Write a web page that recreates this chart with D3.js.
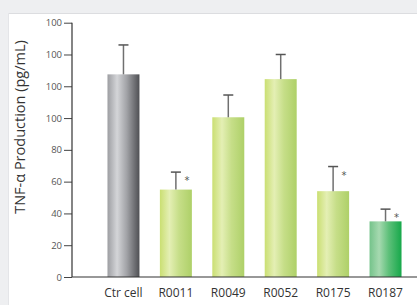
<!DOCTYPE html>
<html lang="en">
<head>
<meta charset="utf-8">
<script src="https://cdn.jsdelivr.net/npm/d3@7"></script>
<style>
  html, body { margin: 0; padding: 0; background: #eeeff1; }
  svg { display: block; }
</style>
</head>
<body>
<script>
// data (axis units: 20 per tick step)
var categories = ["Ctr cell", "R0011", "R0049", "R0052", "R0175", "R0187"];
var values     = [127.5, 55, 100.5, 124.5, 54, 35];
var errors     = [18.5, 11, 14, 15.5, 15.5, 7.7];
var starred    = [false, true, false, false, true, true];
var barStyle   = ["gray", "lime", "lime", "lime", "lime", "green"];
var tickValues = [0, 20, 40, 60, 80, 100, 120, 140, 160];
var tickLabels = ["0", "20", "40", "60", "80", "100", "100", "100", "100"];

var w = 417, h = 305;
var svg = d3.select("body").append("svg").attr("width", w).attr("height", h);

// white panel
svg.append("rect").attr("x", 8).attr("y", 13).attr("width", w - 8).attr("height", h - 13).attr("fill", "#fff");
svg.append("line").attr("x1", 8).attr("x2", w).attr("y1", 13.5).attr("y2", 13.5).attr("stroke", "#dcdde0");
svg.append("line").attr("x1", 8.5).attr("x2", 8.5).attr("y1", 13).attr("y2", h).attr("stroke", "#e4e5e8");

var defs = svg.append("defs");
var grads = {
  gray:  ["#9d9ea2", "#d4d5d8", "#a2a3a7", "#4f5054"],
  lime:  ["#cadf72", "#e4efb4", "#c6de88", "#aed068"],
  green: ["#74c38a", "#a6d9b0", "#5ec07a", "#16a84a"]
};
Object.keys(grads).forEach(function(k) {
  var g = defs.append("linearGradient").attr("id", "g-" + k)
    .attr("x1", "0%").attr("x2", "100%").attr("y1", "0%").attr("y2", "0%");
  var offs = [0, 0.3, 0.6, 1];
  grads[k].forEach(function(c, i) {
    g.append("stop").attr("offset", offs[i]).attr("stop-color", c);
  });
});

var x0 = 72, yBase = 277;
var xscale = d3.scaleBand()
  .domain(categories)
  .range([97, 412])
  .paddingInner(0.39)
  .paddingOuter(0.2);

var yscale = d3.scaleLinear()
  .domain([0, 160])
  .range([yBase, 22.7]);

// bars
svg.selectAll(".bar")
  .data(categories)
  .enter()
  .append("rect")
  .attr("class", "bar")
  .attr("x", function(d) { return xscale(d) })
  .attr("y", function(d, i) { return yscale(values[i]) })
  .attr("width", xscale.bandwidth())
  .attr("height", function(d, i) { return yscale(0) - yscale(values[i]) })
  .attr("fill", function(d, i) { return "url(#g-" + barStyle[i] + ")" });

// error bars
var eb = svg.selectAll(".err")
  .data(categories)
  .enter()
  .append("g")
  .attr("class", "err");
eb.append("line")
  .attr("x1", function(d) { return xscale(d) + xscale.bandwidth() / 2 })
  .attr("x2", function(d) { return xscale(d) + xscale.bandwidth() / 2 })
  .attr("y1", function(d, i) { return yscale(values[i]) })
  .attr("y2", function(d, i) { return yscale(values[i] + errors[i]) })
  .attr("stroke", "#707070")
  .attr("stroke-width", 1.5);
eb.append("line")
  .attr("x1", function(d) { return xscale(d) + xscale.bandwidth() / 2 - 5 })
  .attr("x2", function(d) { return xscale(d) + xscale.bandwidth() / 2 + 5 })
  .attr("y1", function(d, i) { return yscale(values[i] + errors[i]) })
  .attr("y2", function(d, i) { return yscale(values[i] + errors[i]) })
  .attr("stroke", "#555")
  .attr("stroke-width", 1.5);

// asterisks
svg.selectAll(".star")
  .data(categories.filter(function(d, i) { return starred[i] }))
  .enter()
  .append("text")
  .attr("class", "star")
  .attr("x", function(d) { return xscale(d) + xscale.bandwidth() / 2 + 11 })
  .attr("y", function(d) { var i = categories.indexOf(d); return yscale(values[i] + errors[i]) + 12 })
  .attr("text-anchor", "middle")
  .attr("font-family", "DejaVu Sans, sans-serif")
  .attr("font-size", "10px")
  .attr("fill", "#555")
  .text("*");

// y axis
var yAxis = d3.axisLeft(yscale)
  .tickValues(tickValues)
  .tickFormat(function(d, i) { return tickLabels[i] })
  .tickSize(8)
  .tickPadding(2);
var ya = svg.append("g").attr("transform", "translate(" + x0 + ",0)").call(yAxis);
ya.select(".domain").remove();
ya.selectAll("line").attr("stroke", "#444");
ya.selectAll("text")
  .attr("font-family", "Open Sans, sans-serif")
  .attr("font-size", "9.5px")
  .attr("fill", "#555");
svg.append("line")
  .attr("x1", x0).attr("x2", x0)
  .attr("y1", yscale(160)).attr("y2", yBase)
  .attr("stroke", "#333").attr("stroke-width", 1.2);

// x axis baseline
svg.append("line")
  .attr("x1", x0).attr("x2", w)
  .attr("y1", yBase).attr("y2", yBase)
  .attr("stroke", "#333").attr("stroke-width", 1.2);

// x labels
svg.selectAll(".xl")
  .data(categories)
  .enter()
  .append("text")
  .attr("class", "xl")
  .attr("x", function(d) { return xscale(d) + xscale.bandwidth() / 2 })
  .attr("y", 297)
  .attr("text-anchor", "middle")
  .attr("font-family", "Open Sans, sans-serif")
  .attr("font-size", "12px")
  .attr("fill", "#333")
  .text(function(d) { return d });

// y title
svg.append("text")
  .attr("transform", "translate(25,127) rotate(-90)")
  .attr("text-anchor", "middle")
  .attr("font-family", "Open Sans, sans-serif")
  .attr("font-size", "14.5px")
  .attr("fill", "#333")
  .text("TNF-α Production (pg/mL)");
</script>
</body>
</html>
